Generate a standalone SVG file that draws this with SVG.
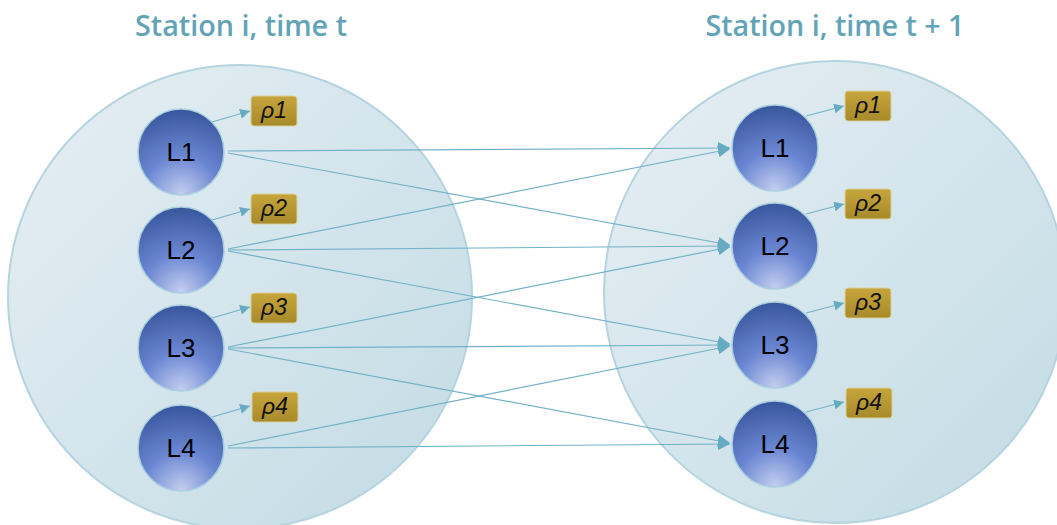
<svg xmlns="http://www.w3.org/2000/svg" width="1057" height="525" viewBox="0 0 1057 525">
<defs>
<linearGradient id="bg" x1="0" y1="0" x2="1" y2="1">
<stop offset="0" stop-color="#e6eff4"/>
<stop offset="1" stop-color="#c2dbe4"/>
</linearGradient>
<radialGradient id="ng" cx="0.5" cy="1" r="1" fx="0.5" fy="0.98">
<stop offset="0" stop-color="#c3cdef"/>
<stop offset="0.45" stop-color="#6a86d2"/>
<stop offset="1" stop-color="#38569c"/>
</radialGradient>
<linearGradient id="rg" x1="0" y1="0" x2="0" y2="1">
<stop offset="0" stop-color="#c6a53c"/>
<stop offset="1" stop-color="#a88a2a"/>
</linearGradient>
<marker id="ah" viewBox="0 0 10 10" refX="10" refY="5" markerWidth="10" markerHeight="10" markerUnits="userSpaceOnUse" orient="auto">
<path d="M0,0 L10,5 L0,10 z" fill="#67abc3"/>
</marker>
<marker id="ahs" viewBox="0 0 10 10" refX="10" refY="5" markerWidth="12" markerHeight="12" markerUnits="userSpaceOnUse" orient="auto">
<path d="M0,0 L10,5 L0,10 z" fill="#67abc3"/>
</marker>
</defs>
<style>
.big{fill:url(#bg);stroke:#b5d4df;stroke-width:2}
.title{font-family:"Open Sans","Liberation Sans",sans-serif;font-weight:600;font-size:28px;fill:#62a3b8;text-anchor:middle}
.node{fill:url(#ng);stroke:#a9cfe0;stroke-width:1.5}
.nt{font-family:"Liberation Sans",Arial,sans-serif;font-size:26px;fill:#000;text-anchor:middle}
.rho{fill:url(#rg);stroke:#d9cf9a;stroke-width:1}
.rt{font-family:"Liberation Sans",Arial,sans-serif;font-size:23px;font-style:italic;fill:#111;text-anchor:middle}
.c{stroke:#74b2c7;stroke-width:1.2;fill:none}
</style>
<g id="station-t">
<circle class="big" cx="240" cy="297" r="232"/>
<text class="title" x="241" y="36" textLength="212" lengthAdjust="spacingAndGlyphs">Station i, time t</text>
</g>
<g id="station-t1">
<circle class="big" cx="835" cy="292" r="231"/>
<text class="title" x="835" y="36" textLength="259" lengthAdjust="spacingAndGlyphs">Station i, time t + 1</text>
</g>
<g id="connectors">
<line class="c" x1="228" y1="151" x2="730" y2="148" marker-end="url(#ahs)"/>
<line class="c" x1="228" y1="153" x2="730" y2="245" marker-end="url(#ahs)"/>
<line class="c" x1="228" y1="249" x2="730" y2="149" marker-end="url(#ahs)"/>
<line class="c" x1="228" y1="250" x2="730" y2="246" marker-end="url(#ahs)"/>
<line class="c" x1="228" y1="251" x2="730" y2="344" marker-end="url(#ahs)"/>
<line class="c" x1="228" y1="347" x2="730" y2="247" marker-end="url(#ahs)"/>
<line class="c" x1="228" y1="348" x2="730" y2="345" marker-end="url(#ahs)"/>
<line class="c" x1="228" y1="349" x2="730" y2="443" marker-end="url(#ahs)"/>
<line class="c" x1="228" y1="446" x2="730" y2="346" marker-end="url(#ahs)"/>
<line class="c" x1="228" y1="448" x2="730" y2="444" marker-end="url(#ahs)"/>
<line class="c" x1="212" y1="122" x2="250" y2="111" marker-end="url(#ah)"/>
<line class="c" x1="212" y1="220" x2="250" y2="209" marker-end="url(#ah)"/>
<line class="c" x1="212" y1="318" x2="250" y2="307" marker-end="url(#ah)"/>
<line class="c" x1="212" y1="417" x2="250" y2="406" marker-end="url(#ah)"/>
<line class="c" x1="806" y1="116" x2="844" y2="106" marker-end="url(#ah)"/>
<line class="c" x1="806" y1="214" x2="844" y2="204" marker-end="url(#ah)"/>
<line class="c" x1="806" y1="313" x2="844" y2="303" marker-end="url(#ah)"/>
<line class="c" x1="806" y1="412" x2="844" y2="402" marker-end="url(#ah)"/>
</g>
<g id="L1-t"><circle class="node" cx="181" cy="152" r="43"/><text class="nt" x="181" y="161">L1</text></g>
<g id="L2-t"><circle class="node" cx="181" cy="250" r="43"/><text class="nt" x="181" y="259">L2</text></g>
<g id="L3-t"><circle class="node" cx="181" cy="348" r="43"/><text class="nt" x="181" y="357">L3</text></g>
<g id="L4-t"><circle class="node" cx="181" cy="448" r="43"/><text class="nt" x="181" y="457">L4</text></g>
<g id="rho1-t"><rect class="rho" x="251" y="96" width="46" height="30" rx="3"/><text class="rt" x="274" y="118">ρ1</text></g>
<g id="rho2-t"><rect class="rho" x="251" y="194" width="46" height="30" rx="3"/><text class="rt" x="274" y="216">ρ2</text></g>
<g id="rho3-t"><rect class="rho" x="251" y="293" width="46" height="30" rx="3"/><text class="rt" x="274" y="315">ρ3</text></g>
<g id="rho4-t"><rect class="rho" x="252" y="392" width="46" height="30" rx="3"/><text class="rt" x="275" y="414">ρ4</text></g>
<g id="L1-t1"><circle class="node" cx="775" cy="148" r="43"/><text class="nt" x="775" y="157">L1</text></g>
<g id="L2-t1"><circle class="node" cx="775" cy="246" r="43"/><text class="nt" x="775" y="255">L2</text></g>
<g id="L3-t1"><circle class="node" cx="775" cy="345" r="43"/><text class="nt" x="775" y="354">L3</text></g>
<g id="L4-t1"><circle class="node" cx="775" cy="444" r="43"/><text class="nt" x="775" y="453">L4</text></g>
<g id="rho1-t1"><rect class="rho" x="845" y="91" width="46" height="30" rx="3"/><text class="rt" x="868" y="113">ρ1</text></g>
<g id="rho2-t1"><rect class="rho" x="845" y="189" width="46" height="30" rx="3"/><text class="rt" x="868" y="211">ρ2</text></g>
<g id="rho3-t1"><rect class="rho" x="845" y="288" width="46" height="30" rx="3"/><text class="rt" x="868" y="310">ρ3</text></g>
<g id="rho4-t1"><rect class="rho" x="846" y="388" width="46" height="30" rx="3"/><text class="rt" x="869" y="410">ρ4</text></g>
</svg>
